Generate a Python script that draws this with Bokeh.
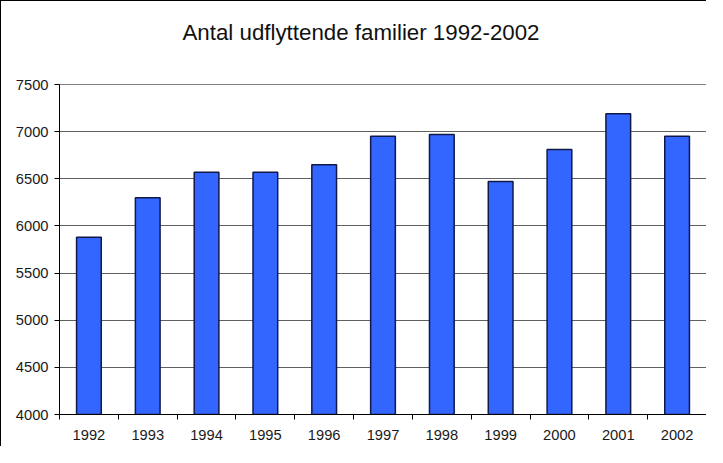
from bokeh.plotting import figure
from bokeh.models import FixedTicker, Range1d, ColumnDataSource, Title
from bokeh.embed import file_html
from bokeh.resources import INLINE

# ---- data ----
years = ["1992", "1993", "1994", "1995", "1996", "1997", "1998", "1999", "2000", "2001", "2002"]
families = [5880, 6300, 6570, 6570, 6650, 6950, 6970, 6470, 6810, 7190, 6950]
y_ticks = [4000, 4500, 5000, 5500, 6000, 6500, 7000, 7500]
title_text = "Antal udflyttende familier 1992-2002"

FONT = "Liberation Sans"
n = len(years)
centers = [i + 0.5 for i in range(n)]
bounds = [i for i in range(n + 1)]

src = ColumnDataSource(dict(x=centers, top=families, year=years))

p = figure(width=706, height=446, output_backend="svg", toolbar_location=None,
           x_range=Range1d(0, n), y_range=Range1d(y_ticks[0], y_ticks[-1]),
           min_border_left=58, min_border_right=1, min_border_top=83, min_border_bottom=33)
p.styles = {"border-left": "1px solid black", "border-top": "1px solid black"}
p.title = None

# spacer (nearest the frame) pushes the real title upward
spacer = Title(text=" ", standoff=37, text_font_size="1px", text_color="white")
main_title = Title(text=title_text, align="left", offset=123, standoff=0,
                   text_font=FONT, text_font_size="22.3px", text_font_style="normal",
                   text_color="#111111")
p.add_layout(spacer, "above")
p.add_layout(main_title, "above")

p.background_fill_color = "white"
p.border_fill_color = "white"
p.outline_line_color = "#808080"
p.outline_line_width = 1

p.vbar(x="x", top="top", bottom=y_ticks[0], width=0.42, source=src,
       fill_color="#3366FF", line_color="#10184a", line_width=1.5)

xa = p.xaxis[0]
xa.ticker = FixedTicker(ticks=centers, minor_ticks=bounds)
xa.major_label_overrides = {c: y for c, y in zip(centers, years)}
xa.major_tick_out = 0
xa.major_tick_in = 0
xa.minor_tick_out = 5
xa.minor_tick_in = 0
xa.minor_tick_line_color = "black"
xa.axis_line_color = "black"
xa.major_label_text_font = FONT
xa.major_label_text_font_size = "14.7px"
xa.major_label_text_color = "#1a1a1a"
xa.major_label_standoff = 10

ya = p.yaxis[0]
ya.ticker = FixedTicker(ticks=y_ticks)
ya.major_tick_out = 5
ya.major_tick_in = 0
ya.minor_tick_line_color = None
ya.axis_line_color = "black"
ya.major_tick_line_color = "black"
ya.major_label_text_font = FONT
ya.major_label_text_font_size = "14.7px"
ya.major_label_text_color = "#1a1a1a"
ya.major_label_standoff = 6

p.xgrid.grid_line_color = None
p.ygrid.grid_line_color = "#606060"
p.ygrid.grid_line_width = 1
p.ygrid.ticker = FixedTicker(ticks=y_ticks)

open("out.html", "w").write(file_html(p, INLINE))
